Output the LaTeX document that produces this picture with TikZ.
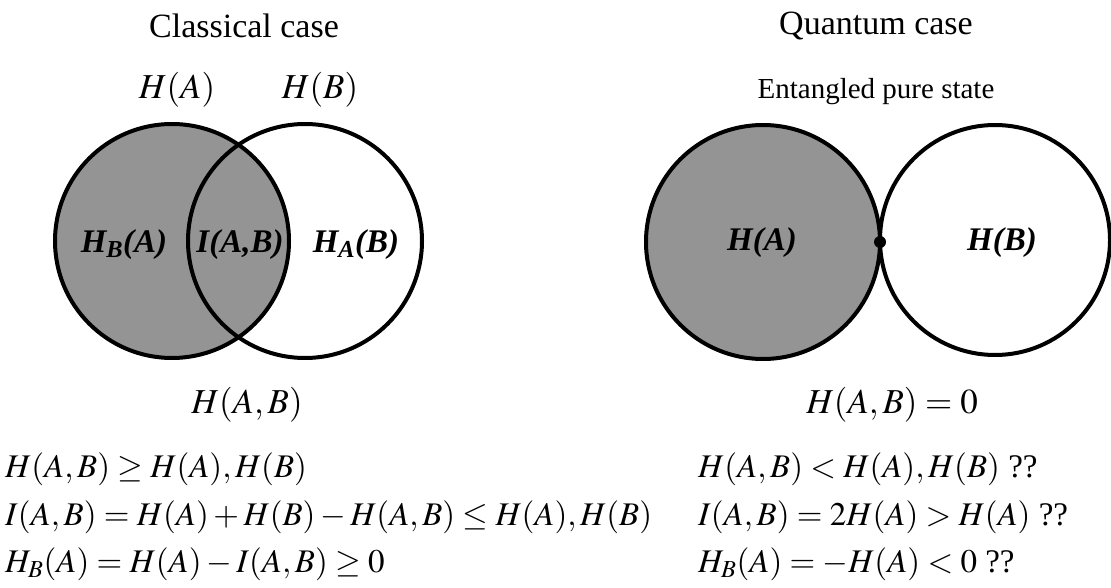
\documentclass[tikz,border=0pt]{standalone}
\usepackage{mathptmx}
\usepackage[no-math]{fontspec}
\setmainfont{Liberation Serif}
\newcommand{\bisub}[2]{\textbf{\textit{#1}}\textsubscript{\textbf{\textit{#2}}}}
\begin{document}
\begin{tikzpicture}[
x=1pt,y=-1pt,
title/.style={font=\fontsize{34}{38}\selectfont},
lbl/.style={font=\fontsize{35}{40}\selectfont},
inner/.style={font=\fontsize{33}{38}\selectfont\bfseries\itshape},
eqn/.style={anchor=west,inner sep=0pt,font=\fontsize{33}{38}\selectfont},
ring/.style={line width=4pt},
shade/.style={fill=black!42}
]
\useasboundingbox (0,0) rectangle (1111,588);

% classical case
\node[title] (ctitle) at (244,26) {Classical case};
\node[lbl] (cHA) at (177,90) {$H(A)$};
\node[lbl] (cHB) at (320,90) {$H(B)$};

\fill[shade] (172,241) circle (117);
\draw[ring] (172,241) circle (117);
\draw[ring] (305,241) circle (117);

\node[inner] (cHBA) at (124,245) {\bisub{H}{B}(A)};
\node[inner] (cIAB) at (240,245) {I(A,B)};
\node[inner] (cHAB) at (356,245) {\bisub{H}{A}(B)};

\node[lbl] (cjoint) at (247,405) {$H(A,B)$};

\node[eqn] (ceq1) at (5,469) {$H(A,B)\geq H(A),H(B)$};
\node[eqn] (ceq2) at (5,517) {$I(A,B)=H(A)+H(B)-H(A,B)\leq H(A),H(B)$};
\node[eqn] (ceq3) at (5,564) {$H_B(A)=H(A)-I(A,B)\geq 0$};

% quantum case
\node[title] (qtitle) at (876,26) {Quantum case};
\node[font=\fontsize{29}{34}\selectfont] (qsub) at (876,92) {Entangled pure state};

\fill[shade] (763,242) circle (117);
\draw[ring] (763,242) circle (117);
\draw[ring] (995,240) circle (115);
\fill (880,242) circle (6);

\node[inner] (qHA) at (762,243) {H(A)};
\node[inner] (qHB) at (1002,243) {H(B)};

\node[lbl] (qjoint) at (892,405) {$H(A,B)=0$};

\node[eqn] (qeq1) at (698,469) {$H(A,B)<H(A),H(B)$ ??};
\node[eqn] (qeq2) at (698,517) {$I(A,B)=2H(A)>H(A)$ ??};
\node[eqn] (qeq3) at (698,564) {$H_B(A)=-H(A)<0$ ??};
\end{tikzpicture}
\end{document}
